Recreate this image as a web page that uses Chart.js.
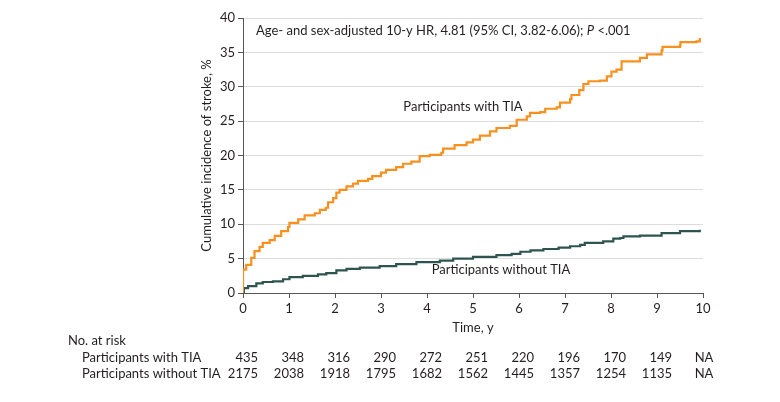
<!DOCTYPE html>
<html>
<head>
<meta charset="utf-8">
<script src="https://cdn.jsdelivr.net/npm/chart.js@4/dist/chart.umd.min.js"></script>
<style>
html,body{margin:0;padding:0;background:#fff;}
#wrap{width:780px;height:402px;position:relative;}
</style>
</head>
<body>
<div id="wrap"><canvas id="km" width="780" height="402"></canvas></div>
<script>
// cumulative incidence (time in years, value in %)
const tiaTimes = [0, 0, 0.07, 0.18, 0.25, 0.36, 0.43, 0.58, 0.69, 0.83, 0.98, 1.01, 1.2, 1.34, 1.56, 1.67, 1.8, 1.85, 1.96, 2.03, 2.1, 2.25, 2.39, 2.5, 2.72, 2.81, 3.0, 3.11, 3.33, 3.48, 3.66, 3.84, 4.06, 4.31, 4.35, 4.6, 4.86, 5.0, 5.15, 5.37, 5.51, 5.8, 5.95, 6.17, 6.24, 6.46, 6.57, 6.82, 6.89, 7.11, 7.14, 7.31, 7.4, 7.51, 7.76, 7.91, 8.01, 8.12, 8.23, 8.63, 8.78, 9.1, 9.12, 9.5, 9.51, 9.86, 9.93];
const tiaValues = [0, 3.4, 4.1, 5.1, 6.1, 6.7, 7.3, 7.7, 8.3, 9.0, 9.6, 10.2, 10.7, 11.3, 11.6, 12.1, 12.4, 13.2, 13.8, 14.6, 15.0, 15.5, 15.9, 16.3, 16.6, 17.0, 17.5, 17.9, 18.3, 18.8, 19.1, 19.9, 20.1, 20.4, 21.0, 21.5, 21.9, 22.3, 22.9, 23.5, 24.0, 24.3, 25.2, 25.7, 26.2, 26.3, 26.8, 27.0, 27.7, 28.2, 28.8, 29.5, 30.4, 30.8, 30.9, 31.5, 32.2, 32.5, 33.7, 34.2, 34.7, 35.3, 35.8, 36.0, 36.5, 36.6, 37.1];

const noTiaTimes = [0, 0.02, 0.11, 0.29, 0.43, 0.65, 0.87, 1.01, 1.3, 1.63, 1.81, 2.03, 2.25, 2.54, 2.97, 3.33, 3.77, 4.28, 4.57, 5.0, 5.51, 5.84, 6.03, 6.25, 6.53, 6.86, 7.11, 7.33, 7.43, 7.83, 8.05, 8.2, 8.27, 8.63, 9.1, 9.5, 9.93];
const noTiaValues = [0, 0.7, 1.0, 1.4, 1.6, 1.7, 2.0, 2.3, 2.5, 2.7, 2.9, 3.3, 3.5, 3.7, 3.9, 4.2, 4.5, 4.7, 5.0, 5.25, 5.5, 5.7, 6.0, 6.2, 6.4, 6.6, 6.8, 7.0, 7.3, 7.5, 7.9, 8.0, 8.25, 8.35, 8.7, 9.0, 9.2];

const riskTimes = [0, 1, 2, 3, 4, 5, 6, 7, 8, 9, 10];
const riskWithTia = ["435", "348", "316", "290", "272", "251", "220", "196", "170", "149", "NA"];
const riskWithoutTia = ["2175", "2038", "1918", "1795", "1682", "1562", "1445", "1357", "1254", "1135", "NA"];

const FONT = "Lato, 'Noto Sans', sans-serif";
const SIZE = 13;
const TEXT = "#231f20";
const AXIS = "#555555";
const ORANGE = "#f7901e";
const TEAL = "#2e5450";

function toPoints(times, values){
    return times.map((t, i) => ({x: t, y: values[i]}));
}

const textPlugin = {
    id: "kmText",
    afterDraw(chart){
        const ctx = chart.ctx;
        const x = chart.scales.x;
        ctx.save();
        ctx.fillStyle = TEXT;
        ctx.textBaseline = "middle";
        ctx.font = `${SIZE}px ${FONT}`;

        // HR annotation with italic P
        let tx = 256, ty = 31;
        const part1 = "Age- and sex-adjusted 10-y HR, 4.81 (95% CI, 3.82-6.06); ";
        ctx.textAlign = "left";
        ctx.fillText(part1, tx, ty);
        tx += ctx.measureText(part1).width;
        ctx.font = `italic ${SIZE}px ${FONT}`;
        ctx.fillText("P", tx, ty);
        tx += ctx.measureText("P").width;
        ctx.font = `${SIZE}px ${FONT}`;
        ctx.fillText(" <.001", tx, ty);

        ctx.textAlign = "center";
        ctx.fillText("Participants with TIA", 463, 107);
        ctx.fillText("Participants without TIA", 501, 270);

        // number at risk table
        ctx.textAlign = "left";
        ctx.fillText("No. at risk", 68, 341);
        ctx.fillText("Participants with TIA", 82, 358);
        ctx.fillText("Participants without TIA", 82, 374);
        riskTimes.forEach((t, i) => {
            const px = x.getPixelForValue(t);
            [[riskWithTia[i], 358], [riskWithoutTia[i], 374]].forEach(([v, y]) => {
                if(v === "NA"){
                    ctx.textAlign = "center";
                    ctx.fillText(v, px + 1, y);
                }else{
                    ctx.textAlign = "right";
                    ctx.fillText(v, px + 15, y);
                }
            });
        });
        ctx.restore();
    }
};

new Chart(document.getElementById("km"), {
    type: "line",
    data: {
        datasets: [
            {
                label: "Participants with TIA",
                data: toPoints(tiaTimes, tiaValues),
                borderColor: ORANGE,
                borderWidth: 2.2,
                stepped: "before",
                pointRadius: 0,
                fill: false
            },
            {
                label: "Participants without TIA",
                data: toPoints(noTiaTimes, noTiaValues),
                borderColor: TEAL,
                borderWidth: 2.2,
                stepped: "before",
                pointRadius: 0,
                fill: false
            }
        ]
    },
    options: {
        responsive: false,
        animation: false,
        layout: {padding: {left: 199, right: 77, top: 18, bottom: 66}},
        plugins: {
            legend: {display: false},
            tooltip: {enabled: false}
        },
        scales: {
            x: {
                type: "linear",
                min: 0,
                max: 10,
                afterFit: s => { s.height = 43; },
                ticks: {stepSize: 1, color: TEXT, font: {family: FONT, size: SIZE}, padding: 3},
                grid: {drawOnChartArea: false, tickLength: 5, tickColor: AXIS},
                border: {color: AXIS, width: 1},
                title: {display: true, text: "Time, y", color: TEXT, font: {family: FONT, size: SIZE}, padding: 0}
            },
            y: {
                min: 0,
                max: 40,
                afterFit: s => { s.width = 44; },
                ticks: {stepSize: 5, color: TEXT, font: {family: FONT, size: SIZE}, padding: 3},
                grid: {color: "#dddddd", tickLength: 5, tickColor: AXIS},
                border: {color: AXIS, width: 1},
                title: {display: true, text: "Cumulative incidence of stroke, %", color: TEXT, font: {family: FONT, size: SIZE}, padding: 0}
            }
        }
    },
    plugins: [textPlugin]
});
</script>
</body>
</html>
